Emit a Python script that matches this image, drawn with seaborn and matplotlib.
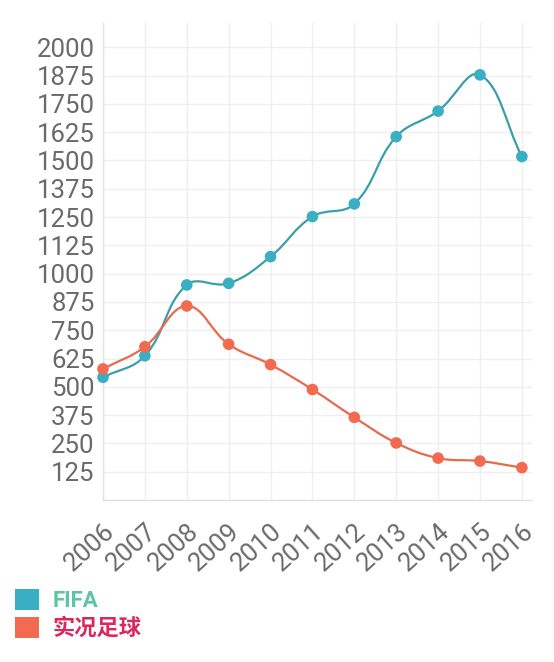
import numpy as np
import pandas as pd
import matplotlib
matplotlib.use('Agg')
import matplotlib.pyplot as plt
from matplotlib.path import Path
from matplotlib.patches import PathPatch, Patch
import seaborn as sns

years = [2006, 2007, 2008, 2009, 2010, 2011, 2012, 2013, 2014, 2015, 2016]
fifa = [542, 637, 950, 957, 1075, 1252, 1308, 1605, 1718, 1878, 1517]
pes = [579, 677, 857, 688, 598, 488, 365, 252, 185, 172, 143]
series_names = ['FIFA', '实况足球']
ytick_vals = list(range(0, 2001, 125))

line_colors = ['#3a9fa8', '#e8694e']
dot_colors = ['#3aafc3', '#f26b50']
text_colors = ['#5cc5a3', '#d8285c']

df = pd.DataFrame({'year': years * 2,
                   'value': fifa + pes,
                   'game': [series_names[0]] * len(years) + [series_names[1]] * len(years)})

sns.set_style('white')
plt.rcParams['font.family'] = ['Roboto', 'Noto Sans CJK SC', 'DejaVu Sans']

fig = plt.figure(figsize=(5.54, 6.62), dpi=100)
ax = fig.add_axes([103 / 554, 1 - 500 / 662, (531.5 - 103) / 554, (500 - 23) / 662])
ax.set_xlim(2006, 2016.23)
ax.set_ylim(0, 2107)


def spline_path(ax, xs, ys, t=0.4):
    # chart.js style tension curve, computed in pixel space
    p = ax.transData.transform(np.column_stack([xs, ys]))
    n = len(p)
    cin, cout = [], []
    for i in range(n):
        prev = p[i - 1] if i > 0 else p[i]
        nxt = p[i + 1] if i < n - 1 else p[i]
        d01 = np.hypot(*(p[i] - prev))
        d12 = np.hypot(*(nxt - p[i]))
        s = d01 + d12
        fa = t * d01 / s if s else 0
        fb = t * d12 / s if s else 0
        cin.append(p[i] - fa * (nxt - prev))
        cout.append(p[i] + fb * (nxt - prev))
    verts = [p[0]]
    codes = [Path.MOVETO]
    for i in range(n - 1):
        verts += [cout[i], cin[i + 1], p[i + 1]]
        codes += [Path.CURVE4] * 3
    verts = ax.transData.inverted().transform(np.array(verts))
    return Path(verts, codes)


for name, lc in zip(series_names, line_colors):
    sub = df[df['game'] == name]
    ax.add_patch(PathPatch(spline_path(ax, sub['year'].values, sub['value'].values),
                           fill=False, edgecolor=lc, lw=1.6, zorder=3))

sns.scatterplot(data=df, x='year', y='value', hue='game', palette=dot_colors,
                s=70, edgecolor='none', legend=False, ax=ax, zorder=4, clip_on=False)

ax.set_xticks(years)
ax.set_xticklabels([str(y) for y in years], rotation=42, ha='right', va='top',
                   rotation_mode='anchor')
ax.set_yticks(ytick_vals)
ax.set_yticklabels([''] + [str(v) for v in ytick_vals[1:]])
ax.tick_params(axis='both', length=0, labelsize=18.5, labelcolor='#6a6a6a')
ax.tick_params(axis='y', pad=6)
ax.tick_params(axis='x', pad=14)
ax.grid(True, color='#efefef', lw=1)
for side in ['top', 'right']:
    ax.spines[side].set_visible(False)
for side in ['left', 'bottom']:
    ax.spines[side].set_color('#e2e2e2')
    ax.spines[side].set_linewidth(1)
ax.set_xlabel('')
ax.set_ylabel('')

handles = [Patch(facecolor=c, edgecolor='none') for c in dot_colors]
leg = fig.legend(handles, series_names, loc='upper left',
                 bbox_to_anchor=(15 / 554, 1 - 589 / 662), frameon=False,
                 handlelength=1.1, handleheight=1.1, handletextpad=0.6,
                 labelspacing=0.2, borderpad=0, borderaxespad=0,
                 prop={'size': 16, 'weight': 'bold'})
for txt, c in zip(leg.get_texts(), text_colors):
    txt.set_color(c)

fig.savefig('out.png', dpi=100)
